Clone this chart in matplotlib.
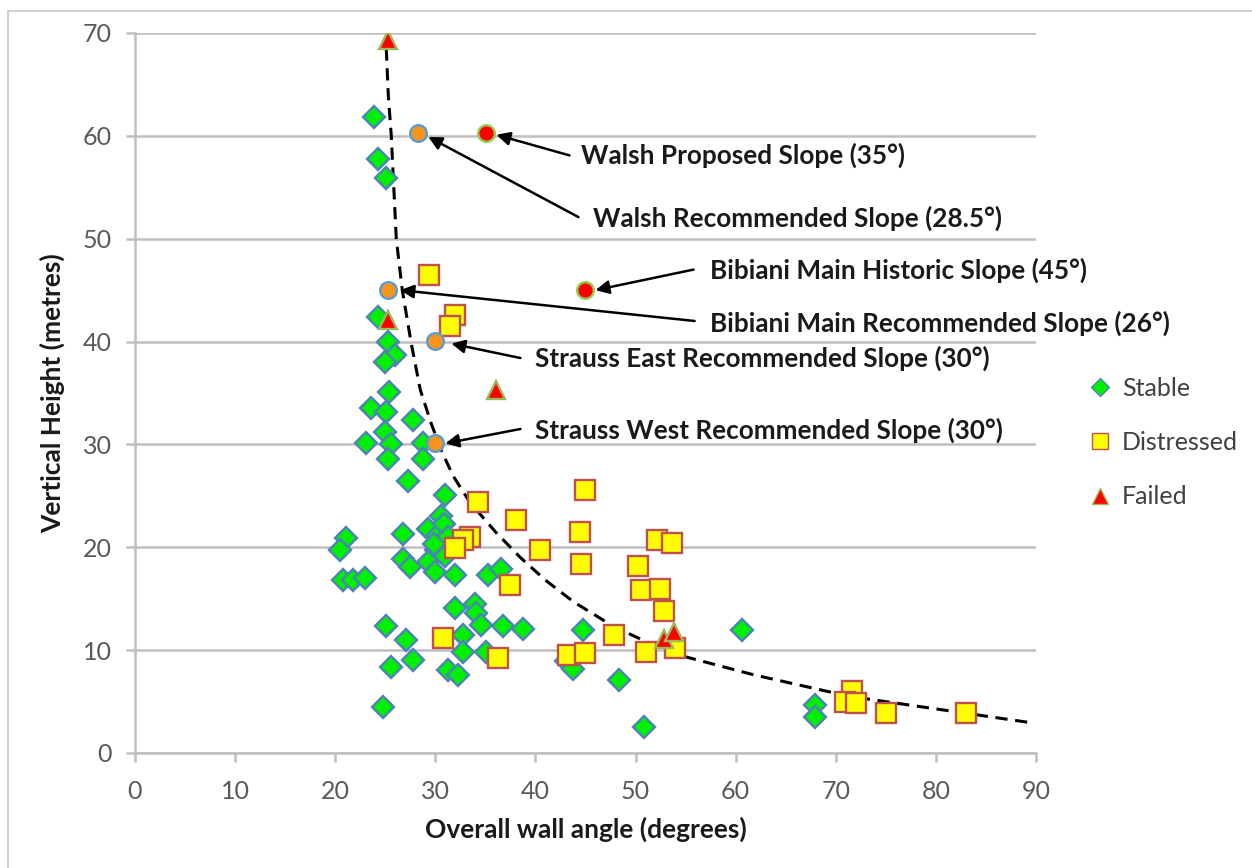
import matplotlib
matplotlib.use("Agg")
import matplotlib.pyplot as plt
from matplotlib.lines import Line2D
from matplotlib.patches import Rectangle

plt.rcParams['font.family'] = ['Lato', 'DejaVu Sans']

# Stable sites (angle deg, height m)
stable_x = [23.9, 24.3, 25.1, 24.3, 25.3, 26.0, 25.0, 25.4, 23.6, 25.1, 27.8, 25.0, 23.1, 25.6,
            28.8, 25.3, 28.8, 27.3, 31.0, 30.6, 29.3, 26.8, 21.1, 20.5, 30.3, 30.1, 26.8, 27.5,
            29.3, 30.0, 32.0, 20.8, 21.8, 23.0, 35.3, 36.6, 32.0, 34.0, 34.1, 34.6, 25.1, 36.8,
            38.8, 44.8, 32.8, 27.1, 32.8, 35.1, 27.8, 25.6, 31.3, 32.3, 43.1, 43.8, 48.3, 24.8,
            50.8, 60.6, 67.9, 67.9, 30.9, 31.3, 29.9, 31.0]
stable_y = [61.8, 57.7, 55.9, 42.4, 40.0, 38.7, 38.0, 35.1, 33.5, 33.2, 32.4, 31.2, 30.1, 30.0,
            30.1, 28.6, 28.6, 26.4, 25.1, 23.0, 21.8, 21.3, 20.9, 19.7, 21.2, 19.7, 18.9, 18.1,
            18.6, 17.6, 17.3, 16.8, 16.8, 17.0, 17.3, 17.9, 14.1, 14.5, 13.6, 12.4, 12.3, 12.3,
            12.1, 12.0, 11.5, 11.0, 9.8, 9.8, 9.0, 8.4, 8.1, 7.6, 8.9, 8.2, 7.1, 4.5,
            2.5, 12.0, 4.7, 3.5, 22.3, 21.0, 20.3, 19.2]

distressed_x = [29.4, 32.0, 31.5, 34.3, 45.0, 38.1, 44.5, 33.5, 32.8, 32.0, 40.5, 44.6, 37.5,
                30.8, 36.3, 43.3, 45.0, 47.8, 52.1, 53.6, 50.2, 50.5, 52.4, 52.8, 51.0, 53.9,
                71.6, 70.9, 72.0, 75.0, 83.0]
distressed_y = [46.5, 42.6, 41.5, 24.4, 25.6, 22.7, 21.5, 21.0, 20.7, 19.9, 19.7, 18.4, 16.3,
                11.2, 9.2, 9.5, 9.7, 11.5, 20.7, 20.4, 18.2, 15.8, 15.9, 13.8, 9.8, 10.2,
                6.0, 5.0, 4.9, 3.9, 3.9]

failed_x = [25.3, 25.3, 36.1, 52.8, 53.8]
failed_y = [69.3, 42.1, 35.3, 11.1, 11.8]

# design slopes
recommended_x = [28.3, 25.3, 30.0, 30.0]
recommended_y = [60.3, 45.0, 40.1, 30.1]
historic_x = [35.1, 45.0]
historic_y = [60.3, 45.0]

# dashed limit curve
curve_x = [25.1, 25.3, 25.6, 26.1, 26.7, 27.6, 28.5, 29.6, 30.6, 31.8, 33.5, 36.1, 38.5,
           41.0, 43.8, 47.8, 51.1, 54.8, 61.8, 71.4, 83.1, 89.8]
curve_y = [68.5, 64.0, 60.0, 50.0, 45.0, 39.8, 35.3, 32.0, 29.4, 26.9, 24.3, 21.4, 19.0,
           16.8, 14.7, 12.3, 10.8, 9.4, 7.6, 5.5, 3.85, 2.9]

# label text, text anchor (x, y), arrow tail (x, y), arrow head (x, y)
labels = [
    ("Walsh Proposed Slope (35°)", 44.6, 58.1, 43.4, 58.1, 36.1, 60.1),
    ("Walsh Recommended Slope (28.5°)", 45.7, 52.0, 44.3, 52.1, 29.3, 59.9),
    ("Bibiani Main Historic Slope (45°)", 57.4, 46.9, 55.8, 47.0, 46.0, 45.0),
    ("Bibiani Main Recommended Slope (26°)", 57.4, 41.8, 55.9, 42.0, 26.5, 45.0),
    ("Strauss East Recommended Slope (30°)", 40.0, 38.4, 38.5, 38.4, 31.6, 39.8),
    ("Strauss West Recommended Slope (30°)", 40.0, 31.4, 38.5, 31.5, 31.0, 30.1),
]

GRID = '#BFBFBF'

fig = plt.figure(figsize=(12.52, 8.68), dpi=100)
ax = fig.add_axes([0.1078, 0.1325, 0.7197, 0.8295])

fig.patches.append(Rectangle((8 / 1252, -0.1), 1.2, (868 - 11) / 868 + 0.1,
                             transform=fig.transFigure, fill=False,
                             edgecolor='#D0D0D0', linewidth=1.5))

ax.plot(curve_x, curve_y, color='black', linestyle=(0, (4, 2.5)), linewidth=2.2, zorder=2)

ax.plot(stable_x, stable_y, linestyle='none', marker='D', ms=11.3, mfc='#00F000',
        mec='#4F81BD', mew=1.7, zorder=3)
ax.plot(distressed_x, distressed_y, linestyle='none', marker='s', ms=14, mfc='#FFFF00',
        mec='#C0504D', mew=1.7, zorder=4)
ax.plot(failed_x, failed_y, linestyle='none', marker='^', ms=13.5, mfc='#FF0000',
        mec='#9BBB59', mew=1.7, zorder=5)
ax.plot(recommended_x, recommended_y, linestyle='none', marker='o', ms=12, mfc='#F7941D',
        mec='#5B9BD5', mew=1.7, zorder=6)
ax.plot(historic_x, historic_y, linestyle='none', marker='o', ms=12, mfc='#FF0000',
        mec='#92D050', mew=1.7, zorder=6)

for text, tx, ty, ax0, ay0, hx, hy in labels:
    ax.annotate('', xy=(hx, hy), xytext=(ax0, ay0),
                arrowprops=dict(arrowstyle='-|>', color='black', lw=1.8,
                                mutation_scale=20, shrinkA=0, shrinkB=0), zorder=7)
    ax.text(tx, ty, text, fontsize=18.8, fontweight='bold', color='#1A1A1A',
            ha='left', va='center', zorder=7)

ax.set_xlim(0, 90)
ax.set_ylim(0, 70)
ax.set_xticks(range(0, 91, 10))
ax.set_yticks(range(0, 71, 10))
ax.yaxis.grid(True, color=GRID, linewidth=1.8)
ax.set_axisbelow(True)
for side in ('top', 'right'):
    ax.spines[side].set_visible(False)
for side in ('left', 'bottom'):
    ax.spines[side].set_color(GRID)
    ax.spines[side].set_linewidth(1.8)
ax.tick_params(axis='both', colors=GRID, width=1.8, length=6.5, labelsize=18,
               labelcolor='#595959')
ax.tick_params(axis='x', pad=13)
ax.tick_params(axis='y', pad=10)

ax.set_xlabel('Overall wall angle (degrees)', fontsize=19, fontweight='bold',
              color='#1A1A1A', labelpad=10)
ax.set_ylabel('Vertical Height (metres)', fontsize=19, fontweight='bold',
              color='#1A1A1A')
ax.yaxis.set_label_coords(-0.078, 0.5)

handles = [
    Line2D([], [], linestyle='none', marker='D', ms=9, mfc='#00F000', mec='#4F81BD', mew=1),
    Line2D([], [], linestyle='none', marker='s', ms=12, mfc='#FFFF00', mec='#C0504D', mew=1),
    Line2D([], [], linestyle='none', marker='^', ms=11, mfc='#FF0000', mec='#9BBB59', mew=1),
]
fig.legend(handles, ['Stable', 'Distressed', 'Failed'], loc='center left',
           bbox_to_anchor=(0.853, 0.49), frameon=False, fontsize=18,
           labelspacing=1.25, handlelength=0.8, handletextpad=0.45, labelcolor='#404040')

fig.savefig('out.png', dpi=100)
